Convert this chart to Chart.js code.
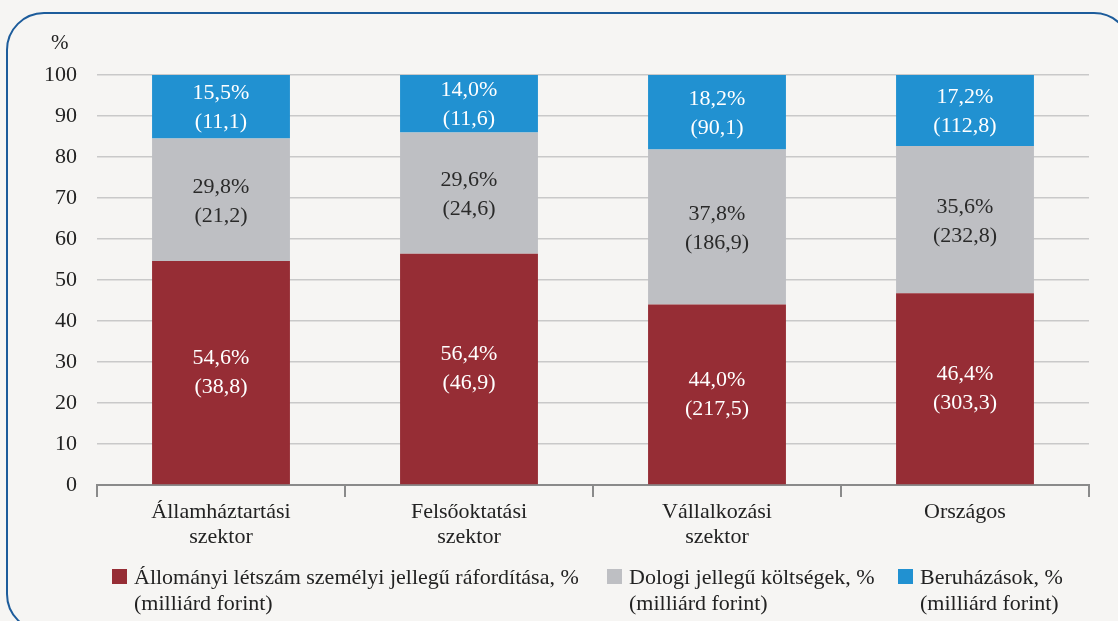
<!DOCTYPE html>
<html lang="hu">
<head>
<meta charset="utf-8">
<script src="https://cdn.jsdelivr.net/npm/chart.js@4.4.1/dist/chart.umd.min.js"></script>
<style>
  html, body { margin:0; padding:0; background:#f6f5f3; }
  body { width:1118px; height:621px; position:relative; overflow:hidden; font-family:"Liberation Serif", serif; }
  #frame { position:absolute; left:6px; top:12px; width:1126px; height:620px; border:2px solid #1d5c9b; border-radius:38px; box-sizing:border-box; }
  #wrap { position:absolute; left:0; top:0; width:1118px; height:621px; }
  #unit { position:absolute; left:51px; top:30px; font-size:21px; color:#222; }
  .lg { position:absolute; top:564px; font-size:22px; line-height:26px; color:#222; }
  .lg .sw { position:absolute; left:0; top:5px; width:15px; height:15px; }
  .lg .tx { position:absolute; left:22px; top:0; white-space:nowrap; }
</style>
</head>
<body>
<div id="frame"></div>
<div id="wrap"><canvas id="c" width="1118" height="621"></canvas></div>
<div id="unit">%</div>
<div class="lg" style="left:112px"><div class="sw" style="background:#962d35"></div><div class="tx">Állományi létszám személyi jellegű ráfordítása, %<br>(milliárd forint)</div></div>
<div class="lg" style="left:607px"><div class="sw" style="background:#bebfc3"></div><div class="tx">Dologi jellegű költségek, %<br>(milliárd forint)</div></div>
<div class="lg" style="left:898px"><div class="sw" style="background:#2191d1"></div><div class="tx">Beruházások, %<br>(milliárd forint)</div></div>
<script>
const categories = [["Államháztartási","szektor"],["Felsőoktatási","szektor"],["Vállalkozási","szektor"],["Országos"]];
const seriesNames = ["Állományi létszám személyi jellegű ráfordítása", "Dologi jellegű költségek", "Beruházások"];
const personnelPct = [54.6, 56.4, 44.0, 46.4];
const materialPct  = [29.8, 29.6, 37.8, 35.6];
const investPct    = [15.5, 14.0, 18.2, 17.2];
const personnelBn  = [38.8, 46.9, 217.5, 303.3];
const materialBn   = [21.2, 24.6, 186.9, 232.8];
const investBn     = [11.1, 11.6, 90.1, 112.8];
const yTicks = [0,10,20,30,40,50,60,70,80,90,100];

const totals = personnelPct.map((v,i)=> v + materialPct[i] + investPct[i]);
const share = arr => arr.map((v,i)=> v / totals[i] * 100);
const fmt = v => v.toFixed(1).replace('.', ',');

const FONT = "'Liberation Serif', serif";

const segLabels = {
  id: 'segLabels',
  afterDatasetsDraw(chart) {
    const ctx = chart.ctx;
    ctx.save();
    ctx.font = "22px " + FONT;
    ctx.textAlign = 'center';
    ctx.textBaseline = 'middle';
    chart.data.datasets.forEach((ds, di) => {
      const meta = chart.getDatasetMeta(di);
      meta.data.forEach((bar, i) => {
        const p = bar.getProps(['x','y','base'], true);
        const cy = (p.y + p.base) / 2 + ds.labelShift;
        ctx.fillStyle = ds.labelColor;
        ctx.fillText(fmt(ds.pct[i]) + '%', p.x, cy - 14.5);
        ctx.fillText('(' + fmt(ds.bn[i]) + ')', p.x, cy + 14.5);
      });
    });
    ctx.restore();
  }
};

new Chart(document.getElementById('c'), {
  type: 'bar',
  data: {
    labels: categories,
    datasets: [
      { label: seriesNames[0], data: share(personnelPct), pct: personnelPct, bn: personnelBn, backgroundColor: '#962d35', labelColor: '#ffffff', labelShift: 0 },
      { label: seriesNames[1], data: share(materialPct), pct: materialPct, bn: materialBn, backgroundColor: '#bebfc3', labelColor: '#2a2a2a', labelShift: 2 },
      { label: seriesNames[2], data: share(investPct), pct: investPct, bn: investBn, backgroundColor: '#2191d1', labelColor: '#ffffff', labelShift: 1 }
    ]
  },
  options: {
    responsive: false,
    animation: false,
    layout: { padding: { left: 20, right: 29, top: 75, bottom: 66 } },
    datasets: { bar: { categoryPercentage: 1, barPercentage: 0.556, borderWidth: 0 } },
    plugins: { legend: { display: false }, tooltip: { enabled: false } },
    scales: {
      x: {
        stacked: true,
        grid: { offset: true, drawOnChartArea: false, drawTicks: true, tickLength: 12, color: '#8a8a8a', lineWidth: 2 },
        border: { display: true, color: '#8a8a8a', width: 2 },
        ticks: { color: '#222', font: { family: FONT, size: 22, lineHeight: 1.14 }, padding: 3, maxRotation: 0 },
        afterFit(s) { s.height = 70; }
      },
      y: {
        stacked: true,
        min: 0, max: 100,
        afterBuildTicks(s) { s.ticks = yTicks.map(v => ({ value: v })); },
        grid: { color: '#c9c9c9', lineWidth: 1.5, drawTicks: false },
        border: { display: false },
        ticks: { color: '#222', font: { family: FONT, size: 22 }, padding: 20 },
        afterFit(s) { s.width = 77; }
      }
    }
  },
  plugins: [segLabels]
});
</script>
</body>
</html>
